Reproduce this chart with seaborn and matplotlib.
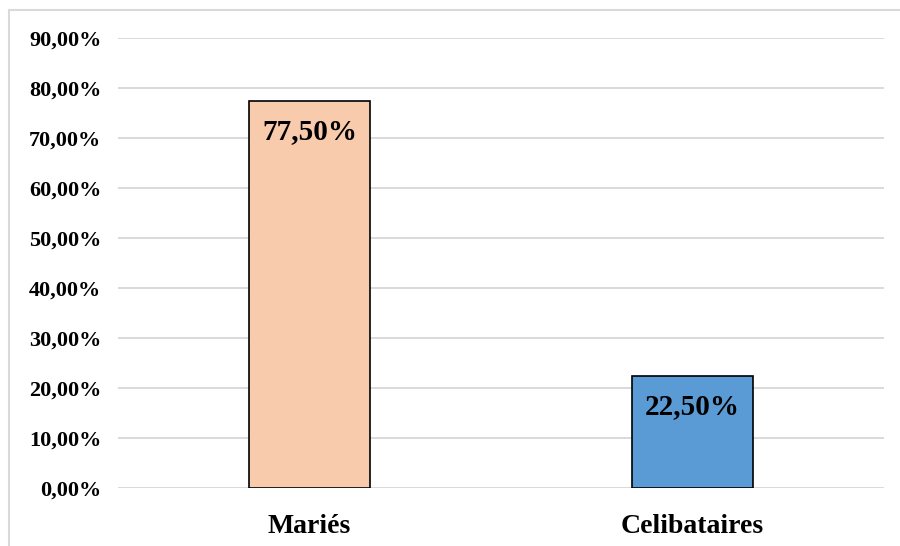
import matplotlib
matplotlib.use("Agg")
import matplotlib.pyplot as plt
import seaborn as sns
import pandas as pd
from matplotlib.lines import Line2D

categories = ["Mariés", "Celibataires"]
values = [77.50, 22.50]
colors = ["#F8CBAD", "#5B9BD5"]
yticks = [0, 10, 20, 30, 40, 50, 60, 70, 80, 90]

sns.set_theme(style="white")
plt.rcParams['font.family'] = ['Liberation Serif', 'DejaVu Serif']
plt.rcParams['font.weight'] = 'bold'
plt.rcParams['text.color'] = 'black'
plt.rcParams['xtick.color'] = 'black'
plt.rcParams['ytick.color'] = 'black'

df = pd.DataFrame({"cat": categories, "val": values})

fig = plt.figure(figsize=(9, 5.46), dpi=100)
ax = fig.add_axes([118/900, 1-488/546, (884-118)/900, (488-38)/546])

sns.barplot(data=df, x="cat", y="val", hue="cat", palette=colors, legend=False,
            saturation=1, width=0.316, edgecolor="black", linewidth=1.2, ax=ax, zorder=3)

ax.set_ylim(0, 90)
ax.set_xlim(-0.5, 1.5)
ax.set_yticks(yticks)
ax.set_yticklabels([f"{t:.2f}".replace(".", ",") + "%" for t in yticks],
                   fontsize=16, fontweight="bold", color="black")
ax.tick_params(axis="y", length=0, pad=12, labelcolor="black")
ax.tick_params(axis="x", length=0, pad=19, labelcolor="black")
for lbl in ax.get_xticklabels():
    lbl.set_fontsize(20)
    lbl.set_fontweight("bold")
    lbl.set_color("black")
ax.set_xlabel("")
ax.set_ylabel("")
ax.grid(axis="y", color="#D9D9D9", linewidth=1.4, zorder=0)
for s in ax.spines.values():
    s.set_visible(False)

for i, v in enumerate(values):
    ax.text(i, v - 3.6, f"{v:.2f}".replace(".", ",") + "%", ha="center", va="top",
            fontsize=21, fontweight="bold", color="black", zorder=5)

# outer chart border (left and top)
fig.add_artist(Line2D([9/900, 9/900], [0, 1-10/546], transform=fig.transFigure,
                      color="#D9D9D9", linewidth=1.5))
fig.add_artist(Line2D([9/900, 1], [1-10/546, 1-10/546], transform=fig.transFigure,
                      color="#D9D9D9", linewidth=1.5))

fig.savefig("out.png", dpi=100)
